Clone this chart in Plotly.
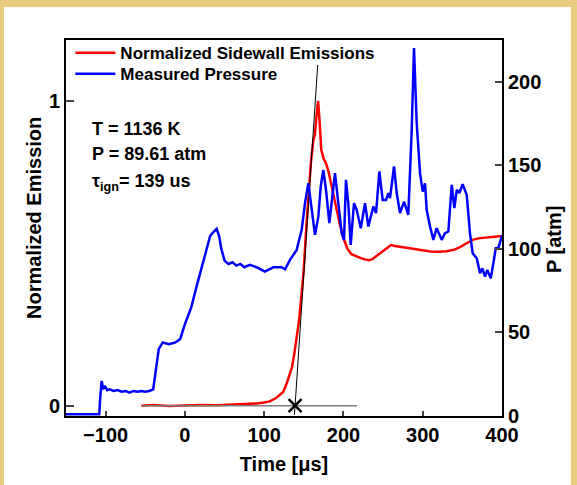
import plotly.graph_objects as go

# Normalized sidewall emission (left axis)
em_t = [-55, -40, -20, 0, 20, 40, 60, 80, 90, 100, 107, 115, 120, 124, 128, 132, 135, 138,
        141, 144, 147, 150, 153, 156, 159, 162, 164, 166, 168, 170, 172, 175, 178, 181, 185,
        190, 195, 200, 205, 210, 217, 222, 227, 232, 236, 240, 245, 250, 255, 260, 265, 270,
        280, 290, 300, 310, 320, 330, 340, 347, 355, 363, 370, 380, 390, 400]
em_v = [0.0, 0.002, -0.001, 0.001, 0.002, 0.001, 0.003, 0.005, 0.007, 0.010, 0.014, 0.025,
        0.035, 0.045, 0.07, 0.10, 0.125, 0.17, 0.22, 0.28, 0.36, 0.45, 0.58, 0.70, 0.80, 0.87,
        0.89, 0.95, 1.0, 0.93, 0.84, 0.81, 0.795, 0.77, 0.72, 0.66, 0.60, 0.55, 0.515, 0.497,
        0.488, 0.484, 0.48, 0.477, 0.48, 0.488, 0.50, 0.51, 0.52, 0.527, 0.524, 0.522, 0.518,
        0.513, 0.509, 0.506, 0.505, 0.507, 0.512, 0.52, 0.532, 0.544, 0.549, 0.552, 0.555, 0.557]

# Measured pressure [atm] (right axis)
p_t = [-150, -108, -107, -105, -103, -101, -98, -95, -90, -85, -80, -75, -70, -65, -60, -55,
       -50, -45, -40, -36, -33, -28, -20, -12, -6, 0, 8, 15, 22, 27, 32, 36, 40, 43, 46, 50,
       55, 60, 65, 70, 75, 82, 90.6, 101, 111.5, 122, 126.3, 132.6, 141, 147.3, 151.5, 155.7,
       159.9, 164.1, 168.3, 171.3, 174.6, 178, 182.2, 186.4, 189.3, 193.5, 197.8, 200.7, 203.2,
       206.1, 209.1, 213.3, 216.7, 221.8, 227.2, 231.4, 237.7, 241.1, 245.3, 249.5, 253.7,
       256.6, 258.7, 263.8, 267.2, 271.3, 276.4, 281.8, 286.1, 289, 292.4, 296.6, 300, 302.9,
       305, 309.2, 313.4, 317.6, 323.9, 328.1, 332.3, 336.6, 339.9, 342.9, 346.1, 350.4,
       355.5, 359.6, 363, 368.1, 372.3, 375.2, 378.6, 381.5, 385.8, 389.1, 392.1, 395.4, 398.4, 400]
p_v = [1, 1, 10, 21, 16, 18, 15.5, 16, 15, 15.5, 14.5, 15, 14, 15, 14.5, 15, 14.5, 15, 16,
       30, 40, 44, 43, 44, 46, 55, 65, 78, 90, 100, 108, 110, 112, 108, 100, 93, 91, 92, 90,
       91, 89, 90.4, 89, 86.4, 89, 89, 87.8, 93.4, 99.4, 111.4, 127.4, 139.3, 123.4, 108.4,
       119.3, 137.3, 147.3, 135.3, 115.4, 131.3, 145.3, 127.4, 109.4, 105.4, 141.3, 127.4,
       102.4, 127.4, 123.4, 112.4, 127.4, 113.4, 125.4, 121.4, 146.3, 129.3, 129.3, 133.4,
       130.4, 149.3, 133.4, 121.4, 128.3, 120.4, 171.3, 220.2, 175.3, 145.3, 134.3, 139.3,
       123.4, 113.4, 105.4, 112.4, 105.4, 109.4, 110.4, 138.3, 124.4, 135.3, 133.4, 138.7,
       132.3, 109.4, 97.4, 94.4, 85.4, 88.4, 83.4, 87.4, 82.4, 91.4, 100.4, 100.4, 106.4, 108]

# Ignition-delay construction
tangent_t = [138.2, 167.5]
tangent_v = [-0.03, 1.118]
base_t = [-55, 217]
base_v = [0, 0]
ign_t = [139]
ign_v = [0]

x_ticks = [-100, 0, 100, 200, 300, 400]
y_ticks = [0, 1]
y2_ticks = [0, 50, 100, 150, 200]

FONT = "Liberation Sans, Arial, sans-serif"

fig = go.Figure()
fig.add_trace(go.Scatter(x=em_t, y=em_v, mode="lines", name="Normalized Sidewall Emissions",
                         line=dict(color="#ff0000", width=2.5), legend="legend"))
fig.add_trace(go.Scatter(x=base_t, y=base_v, mode="lines", showlegend=False,
                         line=dict(color="#7f7f7f", width=1.5)))
fig.add_trace(go.Scatter(x=tangent_t, y=tangent_v, mode="lines", showlegend=False,
                         line=dict(color="#000000", width=1)))
fig.add_trace(go.Scatter(x=ign_t, y=ign_v, mode="markers", showlegend=False,
                         marker=dict(symbol="x-thin", size=13, line=dict(color="black", width=2.5))))
fig.add_trace(go.Scatter(x=p_t, y=p_v, mode="lines", name="Measured Pressure", yaxis="y2",
                         line=dict(color="#0000ff", width=2.5), legend="legend2"))

axfont = dict(family=FONT, size=20, color="black", weight="bold")


def px(xp):
    return (xp - 66) / 436


def py(yp):
    return (416 - yp) / 376


afont = dict(family=FONT, size=18, color="black", weight="bold")
tfont = dict(family=FONT, size=20, color="black", weight="bold")
lfont = dict(family=FONT, size=17, color="black", weight="bold")

fig.update_layout(
    width=577, height=485,
    margin=dict(l=66, r=75, t=40, b=69),
    paper_bgcolor="#e8cb7e",
    plot_bgcolor="white",
    font=dict(family=FONT, color="black"),
    xaxis=dict(range=[-150, 400], tickvals=x_ticks, ticks="inside", ticklen=5, tickwidth=2,
               showline=True, linewidth=2, linecolor="black", mirror=True, showgrid=False,
               zeroline=False, tickfont=axfont,
               title=dict(text="Time [μs]", font=tfont, standoff=12)),
    yaxis=dict(range=[-0.034, 1.2], tickvals=y_ticks, ticks="inside", ticklen=8, tickwidth=2,
               showline=True, linewidth=2, linecolor="black", showgrid=False, zeroline=False,
               tickfont=axfont),
    yaxis2=dict(range=[0, 225], tickvals=y2_ticks, ticks="inside", ticklen=7, tickwidth=2,
                overlaying="y", side="right", showline=True, linewidth=2, linecolor="black",
                showgrid=False, zeroline=False, tickfont=axfont),
    legend=dict(x=0.01, y=1.013, xanchor="left", yanchor="top", bgcolor="rgba(0,0,0,0)",
                font=lfont, itemwidth=40),
    legend2=dict(x=0.01, y=0.957, xanchor="left", yanchor="top", bgcolor="rgba(0,0,0,0)",
                 font=lfont, itemwidth=40),
    shapes=[dict(type="rect", xref="paper", yref="paper", x0=-0.1422, x1=1.1583,
                 y0=-0.1835, y1=1.0878, fillcolor="white", line=dict(width=0), layer="below")],
    annotations=[
        dict(text="T = 1136 K", x=px(90), y=py(129), xref="paper", yref="paper", xanchor="left",
             yanchor="middle", showarrow=False, font=afont),
        dict(text="P = 89.61 atm", x=px(90), y=py(154), xref="paper", yref="paper",
             xanchor="left", yanchor="middle", showarrow=False, font=afont),
        dict(text="τ<sub>ign</sub>= 139 us", x=px(90), y=py(182), xref="paper", yref="paper",
             xanchor="left", yanchor="middle", showarrow=False, font=afont),
        dict(text="Normalized Emission", x=px(34), y=py(218), xref="paper", yref="paper",
             xanchor="center", yanchor="middle", textangle=-90, showarrow=False, font=tfont),
        dict(text="P [atm]", x=px(554), y=py(240), xref="paper", yref="paper",
             xanchor="center", yanchor="middle", textangle=-90, showarrow=False, font=tfont),
    ],
)

fig.write_html("out.html")
